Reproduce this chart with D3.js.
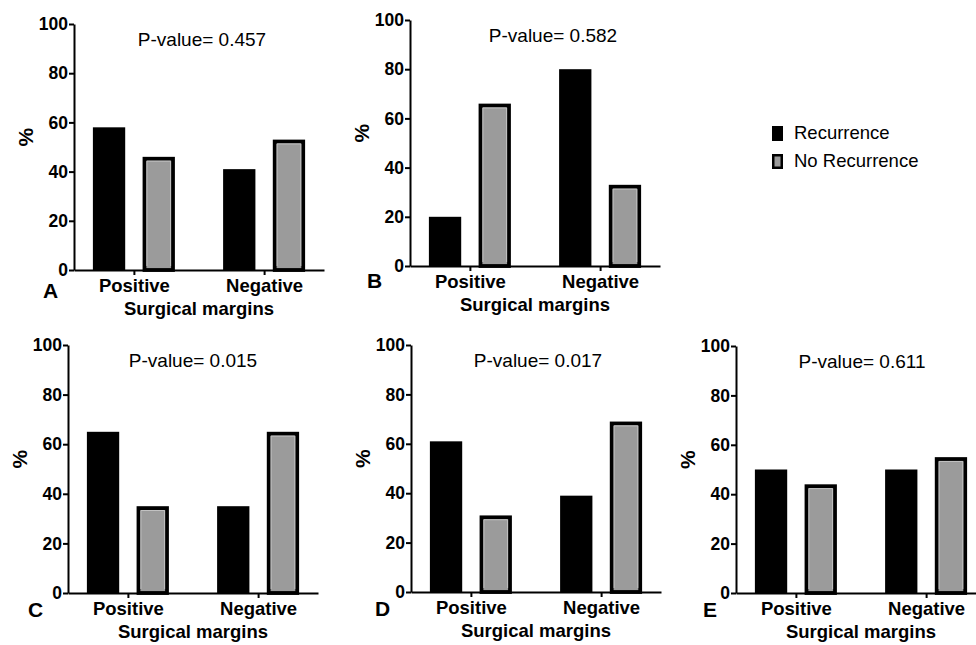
<!DOCTYPE html>
<html lang="en">
<head>
<meta charset="UTF-8">
<title>Surgical margins vs recurrence</title>
<script src="https://d3js.org/d3.v7.min.js"></script>
<style>
  body { margin: 0; background: #fff; }
  svg { display: block; font-family: Arial, "Liberation Sans", sans-serif; }
  .tick text { font-weight: bold; fill: #000; }
</style>
</head>
<body>
<svg id="main" width="976" height="645"></svg>
<script>
// data
const categories = ["Positive", "Negative"];
const series = ["Recurrence", "No Recurrence"];
const panelLetters = ["A", "B", "C", "D", "E"];
const pValues = ["0.457", "0.582", "0.015", "0.017", "0.611"];
const recurrence = [[58, 41], [20, 80], [65, 35], [61, 39], [50, 50]];
const noRecurrence = [[46, 53], [66, 33], [35, 65], [31, 69], [44, 55]];
const yTicks = [0, 20, 40, 60, 80, 100];

// where each small chart sits on the page
const layout = [
  {x: 74,  top: 24,  zero: 270, px: 128, lx: -31, ly: 28},
  {x: 410, top: 20,  zero: 266, px: 143, lx: -43, ly: 22},
  {x: 68,  top: 345, zero: 593, px: 125, lx: -40, ly: 24},
  {x: 411, top: 345, zero: 592, px: 127, lx: -36, ly: 24},
  {x: 736, top: 346, zero: 593, px: 126, lx: -33, ly: 24}
];
const axisLen = 250;
const colors = {"Recurrence": "#000", "No Recurrence": "#9b9b9b"};

const svg = d3.select("#main");

const x = d3.scalePoint().domain(categories).range([0, axisLen]).padding(0.46);
const sub = d3.scaleBand().domain(series).range([-41, 41]).paddingInner(0.35);

layout.forEach((L, i) => {
  const g = svg.append("g").attr("transform", "translate(" + L.x + ",0)");
  const y = d3.scaleLinear().domain([0, 100]).range([L.zero, L.top]);

  const rows = categories.map((c, j) => ({
    cat: c,
    vals: [{s: series[0], v: recurrence[i][j]}, {s: series[1], v: noRecurrence[i][j]}]
  }));

  const groups = g.selectAll(".grp").data(rows).join("g")
      .attr("class", "grp")
      .attr("transform", d => "translate(" + x(d.cat) + ",0)");

  const isNo = d => d.s === series[1];
  groups.selectAll("rect.bar").data(d => d.vals).join("rect")
      .attr("class", "bar")
      .attr("x", d => sub(d.s) + (isNo(d) ? 1.9 : 0))
      .attr("width", d => sub.bandwidth() - (isNo(d) ? 3.8 : 0))
      .attr("y", d => y(d.v) + (isNo(d) ? 1.9 : 0))
      .attr("height", d => y(0) - y(d.v) - (isNo(d) ? 1.9 : 0))
      .attr("fill", d => colors[d.s])
      .attr("stroke", d => isNo(d) ? "#000" : "none")
      .attr("stroke-width", 3.8);

  // faint light rim inside the outlined bars (top and sides)
  groups.selectAll("path.rim").data(d => d.vals.filter(isNo)).join("path")
      .attr("class", "rim")
      .attr("d", d => {
        const l = sub(d.s) + 4.3, r = sub(d.s) + sub.bandwidth() - 4.3;
        return "M" + l + "," + (y(0) - 4) + "V" + (y(d.v) + 4.3) + "H" + r + "V" + (y(0) - 4);
      })
      .attr("fill", "none")
      .attr("stroke", "#c2c2c2")
      .attr("stroke-width", 1);

  // y axis
  const ya = g.append("g")
      .call(d3.axisLeft(y).tickValues(yTicks).tickSize(5).tickSizeOuter(0).tickPadding(1));
  ya.select(".domain").attr("stroke-width", 2);
  ya.selectAll(".tick line").attr("stroke-width", 2);
  ya.selectAll(".tick text").attr("font-size", 17.5);

  // x axis
  const xa = g.append("g").attr("transform", "translate(0," + L.zero + ")")
      .call(d3.axisBottom(x).tickSize(5).tickSizeOuter(0).tickPadding(4));
  xa.select(".domain").attr("stroke-width", 2);
  xa.selectAll(".tick line").attr("stroke-width", 2);
  xa.selectAll(".tick text").attr("font-size", 18.5);

  const mid = (x(categories[0]) + x(categories[1])) / 2;
  g.append("text")
      .attr("x", mid).attr("y", L.zero + 45)
      .attr("text-anchor", "middle")
      .attr("font-size", 18.5).attr("font-weight", "bold")
      .text("Surgical margins");

  g.append("text")
      .attr("transform", "translate(-41," + y(54) + ") rotate(-90)")
      .attr("text-anchor", "middle")
      .attr("font-size", 21).attr("font-weight", "bold")
      .text("%");

  g.append("text")
      .attr("x", L.px).attr("y", L.top + 22)
      .attr("text-anchor", "middle")
      .attr("font-size", 19)
      .text("P-value= " + pValues[i]);

  g.append("text")
      .attr("x", L.lx).attr("y", L.zero + L.ly)
      .attr("font-size", 21).attr("font-weight", "bold")
      .text(panelLetters[i]);
});

// legend
const leg = svg.append("g").attr("transform", "translate(772,126)");
series.forEach((s, k) => {
  const r = leg.append("g").attr("transform", "translate(0," + k * 28 + ")");
  r.append("rect")
      .attr("x", k ? 1.25 : 0).attr("y", k ? 1.25 : 0)
      .attr("width", k ? 8.5 : 11).attr("height", k ? 12.5 : 15)
      .attr("fill", colors[s])
      .attr("stroke", k ? "#000" : "none").attr("stroke-width", 2.5);
  r.append("text")
      .attr("x", 22).attr("y", 13)
      .attr("font-size", 18.5)
      .text(s);
});
</script>
</body>
</html>
